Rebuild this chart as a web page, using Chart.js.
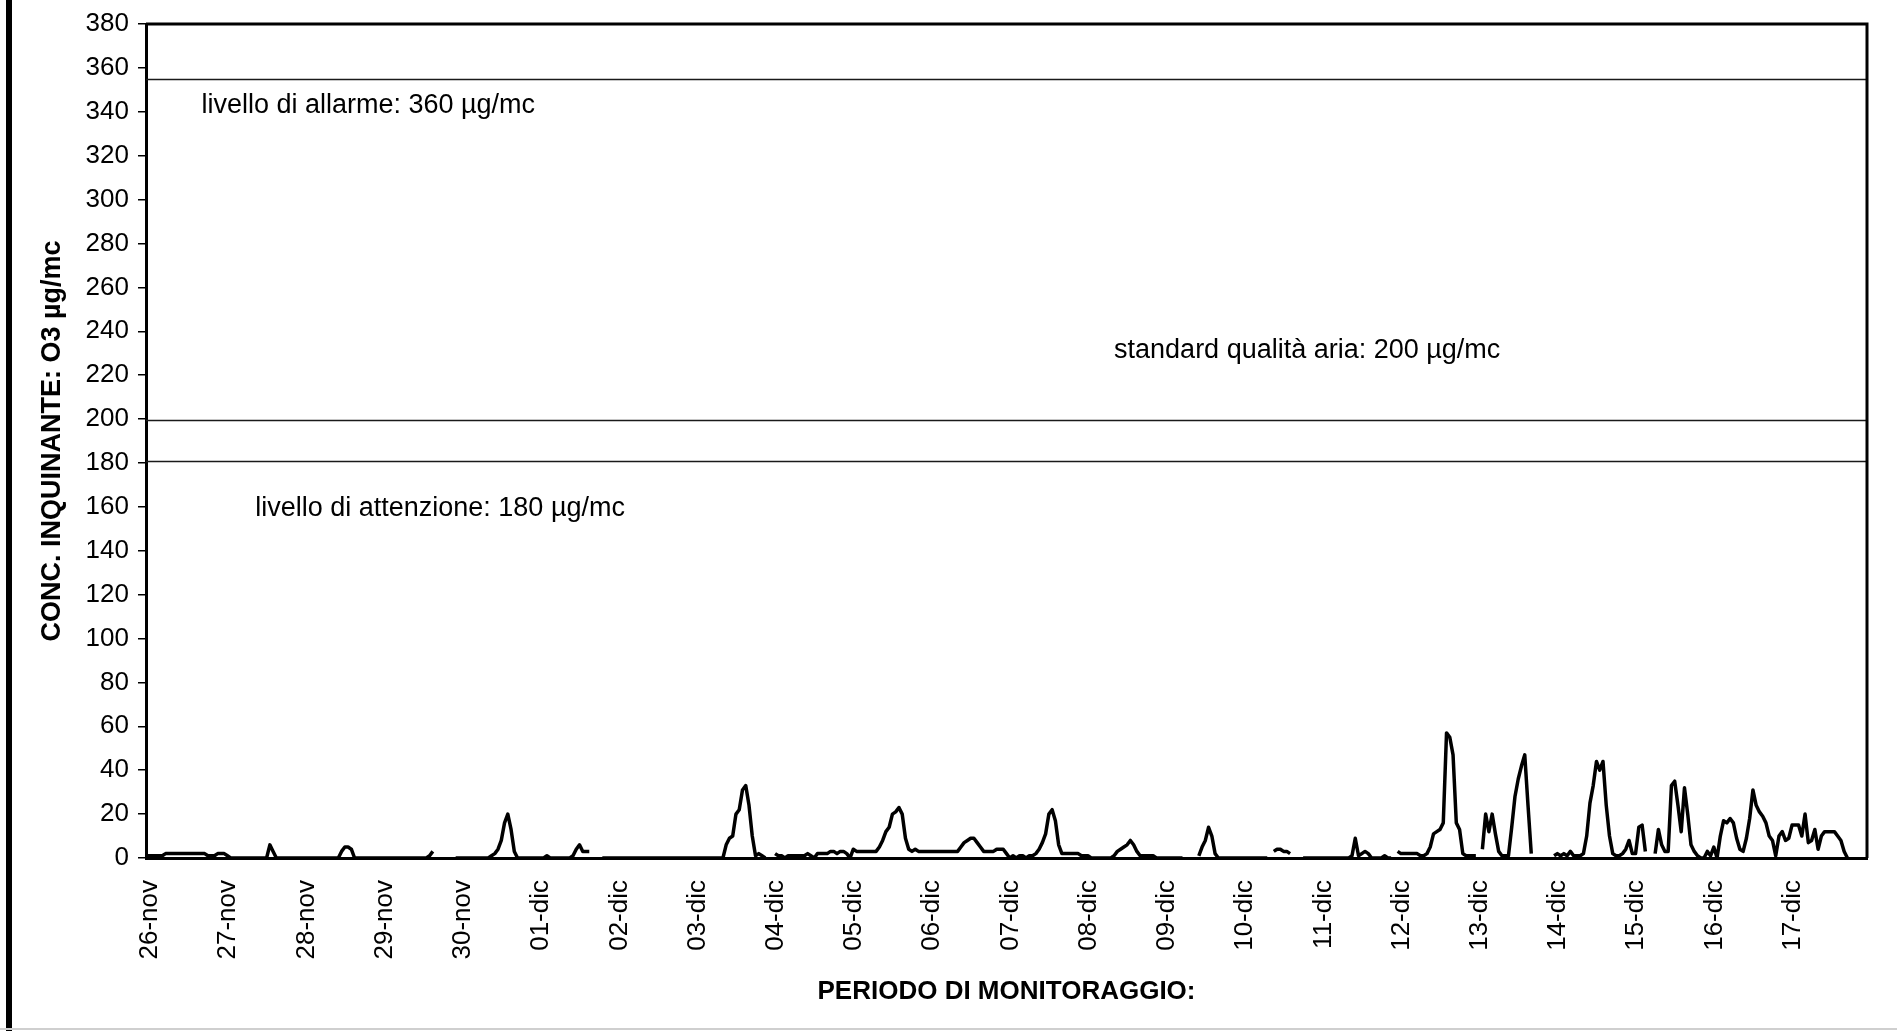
<!DOCTYPE html>
<html lang="it">
<head>
<meta charset="utf-8">
<title>Ozono - periodo di monitoraggio</title>
<script src="https://cdn.jsdelivr.net/npm/chart.js@4/dist/chart.umd.min.js"></script>
<style>
    html, body { margin: 0; padding: 0; background: #fff; }
    #pagina { position: relative; width: 1897px; height: 1031px; overflow: hidden; }
    #bordoSx { position: absolute; left: 6px; top: 0; width: 6px; height: 1031px; background: #000; }
    #bordoGiu { position: absolute; left: 0; top: 1028px; width: 1897px; height: 2px; background: #cfcfcf; }
</style>
</head>
<body>
<div id="pagina">
    <canvas id="graficoO3"></canvas>
    <div id="bordoSx"></div>
    <div id="bordoGiu"></div>
</div>
<script>
// Etichette dell'asse x (una per giorno, ogni 24 ore)
const giorni = ['26-nov', '27-nov', '28-nov', '29-nov', '30-nov', '01-dic', '02-dic', '03-dic',
    '04-dic', '05-dic', '06-dic', '07-dic', '08-dic', '09-dic', '10-dic', '11-dic',
    '12-dic', '13-dic', '14-dic', '15-dic', '16-dic', '17-dic'];

// Concentrazione oraria O3 (µg/mc), null = dato mancante
const o3Orario = [
    1, 1, 1, 1, 1, 1, 2, 2, 2, 2, 2, 2, 2, 2, 2, 2, 2, 2, 2, 1, 1, 1, 2, 2,                  // 26-nov
    2, 1, 0, 0, 0, 0, 0, 0, 0, 0, 0, 0, 0, 0, 6, 3, 0, 0, 0, 0, 0, 0, 0, 0,                  // 27-nov
    0, 0, 0, 0, 0, 0, 0, 0, 0, 0, 0, 0, 3, 5, 5, 4, 0, 0, 0, 0, 0, 0, 0, 0,                  // 28-nov
    0, 0, 0, 0, 0, 0, 0, 0, 0, 0, 0, 0, 0, 0, 0, 1, 3, null, null, null, null, null, null, 0, // 29-nov
    0, 0, 0, 0, 0, 0, 0, 0, 0, 0, 1, 2, 4, 8, 16, 20, 13, 3, 0, 0, 0, 0, 0, 0,               // 30-nov
    0, 0, 0, 1, 0, 0, 0, 0, 0, 0, 0, 1, 4, 6, 3, 3, 3, null, null, null, 0, 0, 0, 0,         // 01-dic
    0, 0, 0, 0, 0, 0, 0, 0, 0, 0, 0, 0, 0, 0, 0, 0, 0, 0, 0, 0, 0, 0, 0, 0,                  // 02-dic
    0, 0, 0, 0, 0, 0, 0, 0, 0, 0, 6, 9, 10, 20, 22, 31, 33, 24, 10, 1, 2, 1, 0, null,        // 03-dic
    null, 2, 1, 1, 0, 1, 1, 1, 1, 1, 1, 2, 1, 0, 2, 2, 2, 2, 3, 3, 2, 3, 3, 2,               // 04-dic
    0, 4, 3, 3, 3, 3, 3, 3, 3, 5, 8, 12, 14, 20, 21, 23, 20, 9, 4, 3, 4, 3, 3, 3,            // 05-dic
    3, 3, 3, 3, 3, 3, 3, 3, 3, 3, 5, 7, 8, 9, 9, 7, 5, 3, 3, 3, 3, 4, 4, 4,                  // 06-dic
    2, 0, 1, 0, 1, 1, 0, 1, 1, 2, 4, 7, 11, 20, 22, 17, 6, 2, 2, 2, 2, 2, 2, 1,              // 07-dic
    1, 1, 0, 0, 0, 0, 0, 0, 0, 1, 3, 4, 5, 6, 8, 6, 3, 1, 1, 1, 1, 1, 0, 0,                  // 08-dic
    0, 0, 0, 0, 0, 0, 0, null, null, null, null, 1, 5, 8, 14, 10, 2, 0, 0, 0, 0, 0, 0, 0,    // 09-dic
    0, 0, 0, 0, 0, 0, 0, 0, 0, null, 3, 4, 4, 3, 3, 2, null, null, null, 0, 0, 0, 0, 0,      // 10-dic
    0, 0, 0, 0, 0, 0, 0, 0, 0, 0, 1, 9, 1, 2, 3, 2, 0, 0, 0, 0, 1, 0, 0, null,               // 11-dic
    3, 2, 2, 2, 2, 2, 2, 1, 1, 2, 5, 11, 12, 13, 16, 57, 55, 47, 16, 13, 2, 1, 1, 1,         // 12-dic
    1, null, 4, 20, 12, 20, 11, 3, 1, 1, 1, 14, 28, 36, 42, 47, 24, 2, null, null, null, null, null, null, // 13-dic
    1, 2, 1, 2, 1, 3, 1, 1, 1, 2, 10, 25, 33, 44, 40, 44, 24, 10, 2, 1, 1, 2, 4, 8,          // 14-dic
    2, 2, 14, 15, 3, null, null, 2, 13, 6, 3, 3, 33, 35, 24, 12, 32, 20, 6, 3, 1, 0, 0, 3,   // 15-dic
    1, 5, 0, 10, 17, 16, 18, 16, 9, 4, 3, 9, 18, 31, 24, 21, 19, 16, 10, 8, 1, 10, 12, 8,    // 16-dic
    9, 15, 15, 15, 10, 20, 7, 8, 13, 4, 10, 12, 12, 12, 12, 10, 8, 3, 0                      // 17-dic
];

// Linee di riferimento, come disegnate sul grafico originale (µg/mc)
const soglieValori = [355, 199.5, 181];
const soglieTesti = ['livello di allarme: 360 µg/mc', 'standard qualità aria: 200 µg/mc', 'livello di attenzione: 180 µg/mc'];

// Configurazioni globali
Chart.defaults.font.family = '"Liberation Sans", Arial, sans-serif';
Chart.defaults.font.size = 26;
Chart.defaults.color = '#000';

const oreTotali = giorni.length * 24;

// Posizione delle scritte (ora, valore) accanto alle linee
const posizioniTesti = [
    { ora: 17, valore: 343 },
    { ora: 297, valore: 231 },
    { ora: 33.5, valore: 159 }
];

// Plugin: cornice, linee di soglia e relative scritte
const soglieLinee = {
    id: 'soglieLinee',
    beforeDatasetsDraw(chart) {
        const { ctx, chartArea: area, scales: { y } } = chart;
        ctx.save();
        ctx.strokeStyle = '#1a1a1a';
        ctx.lineWidth = 1.5;
        soglieValori.forEach(v => {
            const py = Math.round(y.getPixelForValue(v)) + 0.5;
            ctx.beginPath();
            ctx.moveTo(area.left, py);
            ctx.lineTo(area.right, py);
            ctx.stroke();
        });
        // cornice superiore e destra
        ctx.strokeStyle = '#000';
        ctx.lineWidth = 3;
        ctx.beginPath();
        ctx.moveTo(area.left, area.top);
        ctx.lineTo(area.right, area.top);
        ctx.lineTo(area.right, area.bottom);
        ctx.stroke();
        ctx.restore();
    },
    afterDatasetsDraw(chart) {
        const { ctx, scales: { x, y } } = chart;
        ctx.save();
        ctx.font = '27px "Liberation Sans", Arial, sans-serif';
        ctx.fillStyle = '#000';
        ctx.textAlign = 'left';
        ctx.textBaseline = 'middle';
        soglieTesti.forEach((testo, i) => {
            const p = posizioniTesti[i];
            ctx.fillText(testo, x.getPixelForValue(p.ora), y.getPixelForValue(p.valore));
        });
        ctx.restore();
    }
};

function creaGrafico() {
    const canvas = document.getElementById('graficoO3');
    const config = {
        type: 'line',
        data: {
            datasets: [{
                label: 'O3',
                data: o3Orario.map((v, i) => ({ x: i, y: v })),
                borderColor: '#000',
                borderWidth: 3.5,
                borderJoinStyle: 'round',
                pointRadius: 0,
                tension: 0,
                spanGaps: false,
                fill: false
            }]
        },
        options: {
            responsive: true,
            maintainAspectRatio: false,
            animation: false,
            layout: { padding: { left: 0, top: 24, right: 30, bottom: 0 } },
            plugins: {
                legend: { display: false },
                tooltip: { enabled: false }
            },
            scales: {
                x: {
                    type: 'linear',
                    min: 0,
                    max: oreTotali,
                    afterFit: s => {
                        s.height = 173;
                        s.paddingLeft = 0;
                        s.paddingRight = 0;
                    },
                    grid: { display: false, drawTicks: false },
                    border: { display: true, color: '#000', width: 3 },
                    ticks: {
                        stepSize: 24,
                        maxTicksLimit: 40,
                        autoSkip: false,
                        minRotation: 90,
                        maxRotation: 90,
                        padding: 22,
                        labelOffset: 4,
                        callback: v => giorni[v / 24] || ''
                    },
                    title: {
                        display: true,
                        text: 'PERIODO DI MONITORAGGIO:',
                        font: { size: 26, weight: 'bold' },
                        padding: { top: 0, bottom: 24 }
                    }
                },
                y: {
                    min: 0,
                    max: 380,
                    afterFit: s => {
                        s.width = 146;
                        s.paddingTop = 0;
                        s.paddingBottom = 0;
                    },
                    grid: { drawOnChartArea: false, color: '#000', lineWidth: 1.5, tickLength: 8 },
                    border: { display: true, color: '#000', width: 3 },
                    ticks: { stepSize: 20, maxTicksLimit: 40, padding: 9 },
                    title: {
                        display: true,
                        text: 'CONC. INQUINANTE: O3 µg/mc',
                        font: { size: 27, weight: 'bold' },
                        padding: { top: 36, bottom: 0 }
                    }
                }
            }
        },
        plugins: [soglieLinee]
    };
    return new Chart(canvas.getContext('2d'), config);
}

document.addEventListener('DOMContentLoaded', creaGrafico);
</script>
</body>
</html>
